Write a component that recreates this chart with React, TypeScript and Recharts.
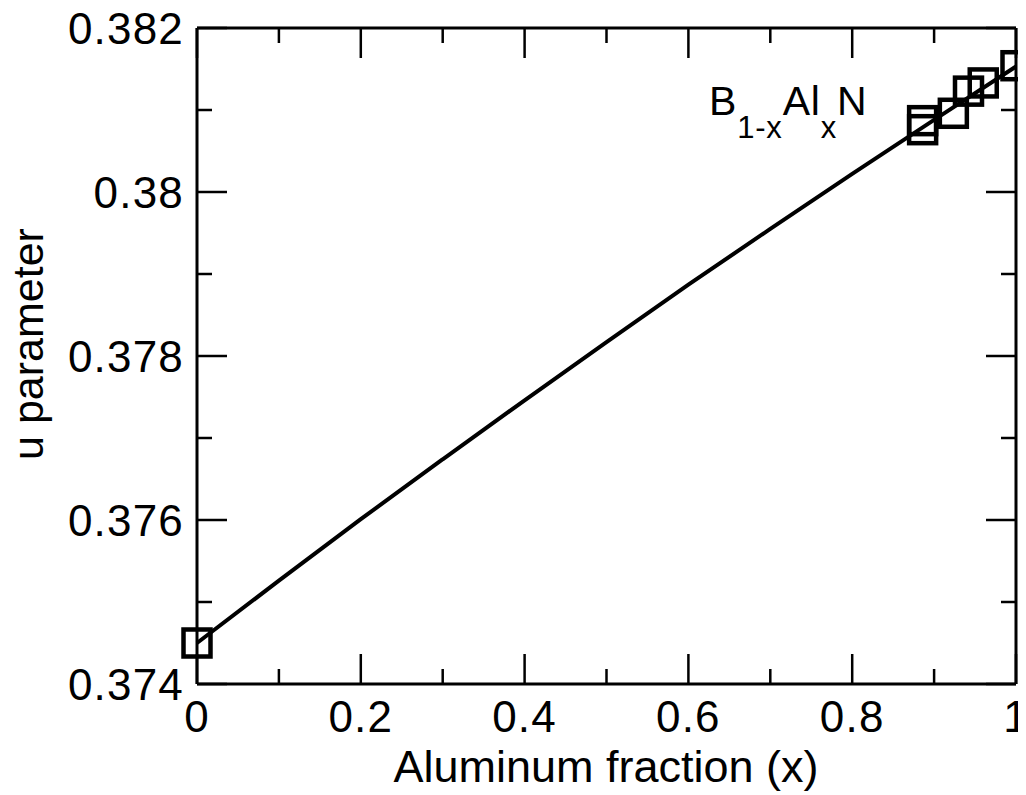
import { ComposedChart, Line, Scatter, XAxis, YAxis, Customized } from 'recharts'

// computed structures: Al fraction vs internal u parameter
const alFraction = [0, 0.886, 0.886, 0.9235, 0.942, 0.96, 1]
const uParam = [0.3745, 0.38087, 0.38076, 0.38096, 0.38123, 0.38133, 0.38154]

// fitted curve through the points
const fitX = [0, 0.1, 0.2, 0.3, 0.4, 0.5, 0.6, 0.7, 0.8, 0.9, 1]
const fitU = [0.3745, 0.37526, 0.37601, 0.37674, 0.37746, 0.37817, 0.37887, 0.37955, 0.38022, 0.38088, 0.38153]

const xMajor = [0, 0.2, 0.4, 0.6, 0.8, 1]
const xMinor = [0.1, 0.3, 0.5, 0.7, 0.9]
const yMajor = [0.374, 0.376, 0.378, 0.38, 0.382]
const yMinor = [0.375, 0.377, 0.379, 0.381]

const points = alFraction.map((x, i) => ({ x, u: uParam[i] }))
const fit = fitX.map((x, i) => ({ x, u: fitU[i] }))

const xTicks = [...xMajor, ...xMinor].sort((a, b) => a - b)
const yTicks = [...yMajor, ...yMinor].sort((a, b) => a - b)

const FONT = '"Liberation Sans", Arial, Helvetica, sans-serif'
const MAJOR = 30
const MINOR = 15

const isMajor = (v: number, majors: number[]) => majors.some((m) => Math.abs(m - v) < 1e-9)
const fmt = (v: number) => String(+v.toFixed(3))

// ticks point inward on every side; only bottom and left carry labels
function makeTick(side: 'bottom' | 'top' | 'left' | 'right', majors: number[]) {
  return (props: any) => {
    const { x, y, payload } = props
    const v = payload.value as number
    const len = isMajor(v, majors) ? MAJOR : MINOR
    let x2 = x
    let y2 = y
    if (side === 'bottom') y2 = y - len
    if (side === 'top') y2 = y + len
    if (side === 'left') x2 = x + len
    if (side === 'right') x2 = x - len
    return (
      <g>
        <line x1={x} y1={y} x2={x2} y2={y2} stroke="#000" strokeWidth={2.5} />
        {side === 'bottom' && isMajor(v, majors) && (
          <text x={x} y={y + 48} textAnchor="middle" fontSize={44} letterSpacing={1.2} fontFamily={FONT} fill="#000">
            {fmt(v)}
          </text>
        )}
        {side === 'left' && isMajor(v, majors) && (
          <text x={x - 13} y={y} dy="0.36em" textAnchor="end" fontSize={44} letterSpacing={1.2} fontFamily={FONT} fill="#000">
            {fmt(v)}
          </text>
        )}
      </g>
    )
  }
}

function Square(props: any) {
  const { cx, cy } = props
  return <rect x={cx - 13.5} y={cy - 13.5} width={27} height={27} fill="none" stroke="#000" strokeWidth={4.5} />
}

function Texts() {
  return (
    <g fontFamily={FONT} fill="#000">
      <text x={701} y={107} fontSize={41} letterSpacing={0.8}>
        B
        <tspan dy={23} fontSize={31}>1-x</tspan>
        <tspan dy={-23}>Al</tspan>
        <tspan dy={23} fontSize={31}>x</tspan>
        <tspan dy={-23}>N</tspan>
      </text>
      <text x={598} y={774} textAnchor="middle" fontSize={45}>
        Aluminum fraction (x)
      </text>
      <text x={35} y={336} textAnchor="middle" fontSize={43} transform="rotate(-90 35 336)">
        u parameter
      </text>
    </g>
  )
}

const axisLine = { stroke: '#000', strokeWidth: 3 }

export default function App() {
  return (
    <ComposedChart width={1018} height={787} margin={{ top: 19, right: 9, bottom: 0, left: 0 }}>
      <XAxis
        dataKey="x"
        type="number"
        domain={[0, 1]}
        ticks={xTicks}
        interval={0}
        height={111}
        tickSize={0}
        tickMargin={0}
        tickLine={false}
        axisLine={axisLine}
        tick={makeTick('bottom', xMajor)}
      />
      <XAxis
        xAxisId="top"
        orientation="top"
        dataKey="x"
        type="number"
        domain={[0, 1]}
        allowDataOverflow
        ticks={xTicks}
        interval={0}
        height={1}
        tickSize={0}
        tickMargin={0}
        tickLine={false}
        axisLine={axisLine}
        tick={makeTick('top', xMajor)}
      />
      <YAxis
        dataKey="u"
        type="number"
        domain={[0.374, 0.382]}
        ticks={yTicks}
        interval={0}
        width={189}
        tickSize={0}
        tickMargin={0}
        tickLine={false}
        axisLine={axisLine}
        tick={makeTick('left', yMajor)}
      />
      <YAxis
        yAxisId="right"
        orientation="right"
        dataKey="u"
        type="number"
        domain={[0.374, 0.382]}
        allowDataOverflow
        ticks={yTicks}
        interval={0}
        width={1}
        tickSize={0}
        tickMargin={0}
        tickLine={false}
        axisLine={axisLine}
        tick={makeTick('right', yMajor)}
      />
      <Line
        data={fit}
        dataKey="u"
        type="monotone"
        stroke="#000"
        strokeWidth={4}
        dot={false}
        activeDot={false}
        isAnimationActive={false}
      />
      <Scatter data={points} dataKey="u" shape={<Square />} isAnimationActive={false} />
      <Customized component={Texts} />
    </ComposedChart>
  )
}
